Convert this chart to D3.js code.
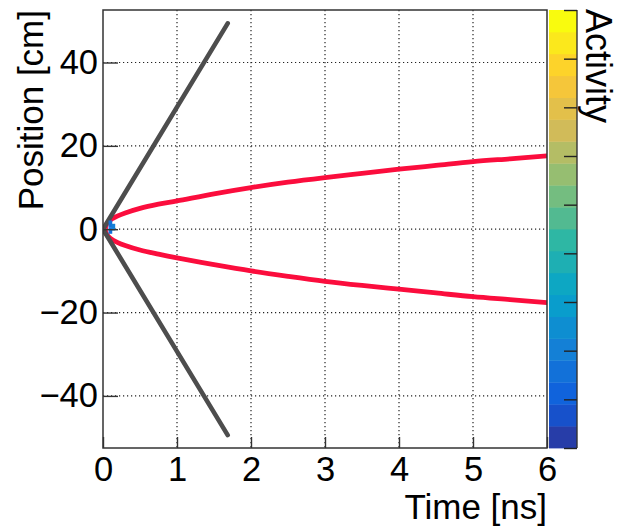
<!DOCTYPE html>
<html>
<head>
<meta charset="utf-8">
<script src="https://cdn.jsdelivr.net/npm/d3@7"></script>
<style>
  html, body { margin: 0; padding: 0; background: #fff; }
  svg { display: block; font-family: "Liberation Sans", Arial, Helvetica, sans-serif; }
</style>
</head>
<body>
<svg id="chart" width="621" height="528"></svg>
<script>
// ---- data ----
const xTicks = [0, 1, 2, 3, 4, 5, 6];
const yTicks = [-40, -20, 0, 20, 40];

// light cone: straight tracks from the origin
const lightTime = [0, 1.685];
const lightUp = [0, 49.4];
const lightDown = [0, -49.4];

// diffusion envelope (time in ns, position in cm)
const spreadTime = [0.03, 0.05, 0.1, 0.2, 0.3, 0.5, 0.75, 1, 1.5, 2, 2.5, 3, 3.5, 4, 4.5, 5, 5.5, 6];
const spreadUpper = [0, 1.2, 2.2, 3.2, 3.9, 5.0, 6.0, 6.8, 8.5, 10.0, 11.3, 12.4, 13.4, 14.4, 15.3, 16.2, 16.9, 17.6];
const spreadLower = [0, -1.2, -2.2, -3.2, -3.9, -5.0, -6.0, -6.9, -8.5, -10.0, -11.3, -12.5, -13.5, -14.4, -15.3, -16.2, -16.9, -17.6];

// activity histogram cells near the origin: time, position, colour level
const activityTime = [0.1, 0.1, 0.14];
const activityPos = [1.3, -0.3, 0.5];
const activityLevel = [3, 3, 4];
const activityBinT = 0.05;
const activityBinX = 1.6;

// palette (bird) stops
const birdStops = [0, 0.125, 0.25, 0.375, 0.5, 0.625, 0.75, 0.875, 1];
const birdR = [0.2082, 0.0592, 0.0780, 0.0232, 0.1802, 0.5301, 0.8186, 0.9956, 0.9764];
const birdG = [0.1664, 0.3599, 0.5041, 0.6419, 0.7178, 0.7492, 0.7328, 0.7862, 0.9832];
const birdB = [0.5293, 0.8684, 0.8385, 0.7914, 0.6425, 0.4662, 0.3499, 0.1968, 0.0539];
const paletteLevels = 20;
const paletteTicks = [0, 1, 2, 3, 4, 5, 6, 7, 8, 9];

// ---- layout ----
const svg = d3.select("#chart");
const frame = { left: 103, right: 547, top: 10, bottom: 448 };
const pal = { left: 549, right: 577 };

const x = d3.scaleLinear().domain([0, 6]).range([frame.left, frame.right]);
const y = d3.scaleLinear().domain([-52.5, 52.6]).range([frame.bottom, frame.top]);

const birdColor = d3.scaleLinear()
  .domain(birdStops)
  .range(birdStops.map((_, i) => d3.rgb(birdR[i] * 255, birdG[i] * 255, birdB[i] * 255)))
  .interpolate(d3.interpolateRgb);
// colour of contour level i, as picked from a 255-entry gradient
const levelColor = i => birdColor(Math.floor((i + 0.99) * 255 / paletteLevels) / 254);

svg.append("rect").attr("width", 621).attr("height", 528).attr("fill", "#fff");

svg.append("defs").append("clipPath").attr("id", "plotClip")
  .append("rect")
  .attr("x", frame.left).attr("y", frame.top)
  .attr("width", frame.right - frame.left).attr("height", frame.bottom - frame.top);

// grid
const grid = svg.append("g")
  .attr("stroke", "#222").attr("stroke-width", 1.2).attr("stroke-dasharray", "1.2,2.8");
grid.selectAll(".gx").data(xTicks.filter(d => d > 0 && d < 6)).join("line")
  .attr("x1", d => x(d)).attr("x2", d => x(d))
  .attr("y1", frame.top).attr("y2", frame.bottom);
grid.selectAll(".gy").data(yTicks).join("line")
  .attr("x1", frame.left).attr("x2", frame.right)
  .attr("y1", d => y(d)).attr("y2", d => y(d));

const plot = svg.append("g").attr("clip-path", "url(#plotClip)");

// diffusion envelope as one continuous curve through the tip
const envelope = spreadTime.map((t, i) => [t, spreadLower[i]]).reverse()
  .concat(spreadTime.slice(1).map((t, i) => [t, spreadUpper[i + 1]]));
const curve = d3.line().x(d => x(d[0])).y(d => y(d[1])).curve(d3.curveCatmullRom);
plot.append("path")
  .attr("d", curve(envelope))
  .attr("fill", "none").attr("stroke", "#fb0d3d").attr("stroke-width", 4.8)
  .attr("stroke-linecap", "round").attr("stroke-linejoin", "round");

// light cone
const straight = d3.line().x(d => x(d[0])).y(d => y(d[1]));
[lightUp, lightDown].forEach(arm => {
  plot.append("path")
    .attr("d", straight(lightTime.map((t, i) => [t, arm[i]])))
    .attr("fill", "none").attr("stroke", "#4d4d4d").attr("stroke-width", 4.6)
    .attr("stroke-linecap", "round");
});

// activity cells
plot.selectAll(".cell").data(activityTime).join("rect")
  .attr("x", (t) => x(t - activityBinT / 2))
  .attr("y", (t, i) => y(activityPos[i] + activityBinX / 2))
  .attr("width", x(activityBinT) - x(0))
  .attr("height", (t, i) => y(activityPos[i] - activityBinX / 2) - y(activityPos[i] + activityBinX / 2))
  .attr("fill", (t, i) => levelColor(activityLevel[i]));

// axes
const xAxis = d3.axisBottom(x).tickValues(xTicks).tickSize(-11).tickPadding(9)
  .tickFormat(d3.format("d"));
const gx = svg.append("g").attr("transform", `translate(0,${frame.bottom})`).call(xAxis);
const yAxis = d3.axisLeft(y).tickValues(yTicks).tickSize(-15).tickPadding(5)
  .tickFormat(d3.format("d"));
const gy = svg.append("g").attr("transform", `translate(${frame.left},0)`).call(yAxis);
[gx, gy].forEach(g => {
  g.select(".domain").remove();
  g.selectAll(".tick line").attr("stroke", "#333").attr("stroke-width", 1.4);
  g.selectAll(".tick text").attr("fill", "#000").attr("font-size", 34.5)
    .attr("font-family", "Liberation Sans, Arial, sans-serif");
});

// frame
svg.append("rect")
  .attr("x", frame.left).attr("y", frame.top)
  .attr("width", frame.right - frame.left).attr("height", frame.bottom - frame.top)
  .attr("fill", "none").attr("stroke", "#333").attr("stroke-width", 1.5);

// axis titles
svg.append("text")
  .attr("transform", `translate(${frame.right},519)`)
  .attr("text-anchor", "end").attr("font-size", 35).attr("fill", "#000")
  .text("Time [ns]");
svg.append("text")
  .attr("transform", `translate(43,${frame.top}) rotate(-90)`)
  .attr("text-anchor", "end").attr("font-size", 35).attr("fill", "#000")
  .text("Position [cm]");

// colour palette
const z = d3.scaleLinear().domain([0, paletteLevels]).range([frame.bottom, frame.top]);
svg.append("g").selectAll("rect").data(d3.range(paletteLevels)).join("rect")
  .attr("x", pal.left).attr("width", pal.right - pal.left)
  .attr("y", d => z(d + 1)).attr("height", d => z(d) - z(d + 1) + 0.4)
  .attr("fill", d => levelColor(d));

const zt = d3.scaleLinear().domain([0, 9]).range([frame.bottom, frame.top]);
const zAxis = d3.axisRight(zt).tickValues(paletteTicks).tickSize(-13).tickFormat("");
const gz = svg.append("g").attr("transform", `translate(${pal.right},0)`).call(zAxis);
gz.select(".domain").attr("stroke", "#333").attr("stroke-width", 1.4).attr("d", `M0,${frame.top}V${frame.bottom}`);
gz.selectAll(".tick line").attr("stroke", "#222").attr("stroke-width", 1.4);

svg.append("text")
  .attr("transform", `translate(586,${frame.top - 1}) rotate(90)`)
  .attr("text-anchor", "start").attr("font-size", 36).attr("fill", "#000")
  .text("Activity");
</script>
</body>
</html>
